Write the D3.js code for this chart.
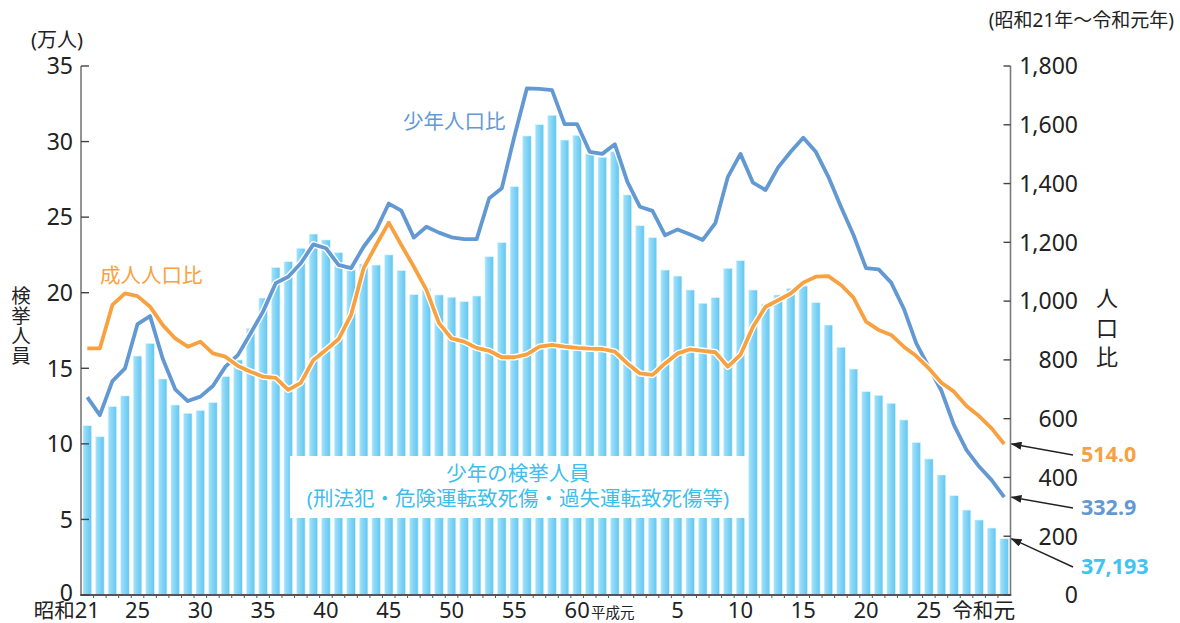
<!DOCTYPE html>
<html><head><meta charset="utf-8">
<script src="https://cdn.jsdelivr.net/npm/d3@7"></script>
<style>
body{margin:0;background:#fff;}
svg{display:block;font-family:"Noto Sans","Noto Sans CJK JP",sans-serif;}
</style></head><body>
<svg id="c" width="1180" height="623"></svg>
<script>
// ---- data ----
const years = [1946,1947,1948,1949,1950,1951,1952,1953,1954,1955,1956,1957,1958,1959,1960,1961,1962,1963,1964,1965,
  1966,1967,1968,1969,1970,1971,1972,1973,1974,1975,1976,1977,1978,1979,1980,1981,1982,1983,1984,1985,
  1986,1987,1988,1989,1990,1991,1992,1993,1994,1995,1996,1997,1998,1999,2000,2001,2002,2003,2004,2005,
  2006,2007,2008,2009,2010,2011,2012,2013,2014,2015,2016,2017,2018,2019];
// juvenile arrests (10,000 persons)
const arrests = [11.2,10.47,12.46,13.17,15.81,16.64,14.29,12.57,12.02,12.2,12.73,14.45,15.55,17.64,19.65,21.66,22.05,22.94,23.88,23.49,
  22.65,21.5,21.9,21.83,22.5,21.46,19.87,20.27,19.85,19.7,19.41,19.78,22.38,23.31,27.02,30.37,31.12,31.74,30.1,30.41,
  29.18,28.96,29.33,26.47,24.43,23.64,21.5,21.1,20.18,19.3,19.67,21.61,22.12,20.18,19.25,19.85,20.29,20.44,19.34,17.86,
  16.39,14.95,13.45,13.21,12.68,11.58,10.08,9.0,7.94,6.57,5.62,4.96,4.43,3.7193];
// juvenile rate per population
const juvenileRate = [673,612,728,771,922,949,805,700,660,675,711,777,817,890,965,1061,1083,1129,1193,1180,
  1123,1112,1185,1242,1332,1308,1216,1253,1233,1217,1211,1211,1350,1384,1560,1724,1722,1718,1602,1602,
  1508,1501,1534,1406,1321,1307,1224,1244,1227,1208,1265,1423,1501,1403,1378,1455,1508,1556,1508,1423,
  1321,1225,1112,1108,1063,975,856,775,695,578,493,437,391,332.9];
// adult rate per population
const adultRate = [839,839,987,1026,1017,981,919,873,845,862,822,811,779,760,743,739,698,722,800,834,
  870,953,1112,1191,1267,1191,1117,1038,925,873,862,841,831,809,809,819,845,851,845,841,
  838,837,828,788,754,749,788,822,836,831,826,777,817,913,981,1003,1026,1063,1083,1085,
  1055,1012,930,902,885,845,813,771,722,692,643,609,567,514.0];
const tickYears = [1946,1950,1955,1960,1965,1970,1975,1980,1985,1989,1993,1998,2003,2008,2013,2019];
const tickPrefix = ["昭和","","","","","","","","","","","","","","","令和"];
const tickText = ["21","25","30","35","40","45","50","55","60","平成元","5","10","15","20","25","元"];
const leftTicks = [0,5,10,15,20,25,30,35];
const rightTicks = [0,200,400,600,800,1000,1200,1400,1600,1800];

// ---- layout ----
const svg = d3.select("#c");
const X0 = 81, X1 = 1010.5, Y0 = 595, Y1 = 66;
const x = d3.scaleBand().domain(years).range([X0, X1]).paddingInner(0.32).paddingOuter(0.16);
const yL = d3.scaleLinear().domain([0,35]).range([Y0,Y1]);
const yR = d3.scaleLinear().domain([0,1800]).range([Y0,Y1]);
const cx = d => x(d) + x.bandwidth()/2;

const defs = svg.append("defs");
const g = defs.append("linearGradient").attr("id","barg").attr("x1","0").attr("x2","1").attr("y1","0").attr("y2","0");
g.append("stop").attr("offset","0%").attr("stop-color","#a6e2fa");
g.append("stop").attr("offset","45%").attr("stop-color","#84d5f6");
g.append("stop").attr("offset","100%").attr("stop-color","#62c6f0");
defs.append("marker").attr("id","arr").attr("markerUnits","userSpaceOnUse")
  .attr("markerWidth",11).attr("markerHeight",8).attr("refX",10).attr("refY",4).attr("orient","auto")
  .append("path").attr("d","M0,0 L11,4 L0,8 Z").attr("fill","#222");

// bars
svg.append("g").selectAll("rect").data(years).join("rect")
  .attr("x", d => x(d)).attr("width", x.bandwidth())
  .attr("y", (d,i) => yL(arrests[i])).attr("height", (d,i) => Y0 - yL(arrests[i]))
  .attr("fill","url(#barg)").attr("stroke","#d8f3fd").attr("stroke-width",0.6);

// white label box
svg.append("rect").attr("x",290).attr("y",456).attr("width",456).attr("height",62).attr("fill","#fff");
const bt = svg.append("text").attr("text-anchor","middle").attr("font-size",20.5).attr("fill","#3fbdec");
bt.append("tspan").attr("x",518).attr("y",481).text("少年の検挙人員");
bt.append("tspan").attr("x",518).attr("y",506).text("(刑法犯・危険運転致死傷・過失運転致死傷等)");

// lines
function drawLine(vals, color){
  const line = d3.line().x((d,i)=>cx(years[i])).y(d=>yR(d)).curve(d3.curveLinear);
  svg.append("path").attr("d", line(vals)).attr("fill","none").attr("stroke","#fff")
    .attr("stroke-width",6.5).attr("stroke-linejoin","round");
  svg.append("path").attr("d", line(vals)).attr("fill","none").attr("stroke",color)
    .attr("stroke-width",3.8).attr("stroke-linejoin","round");
}
drawLine(juvenileRate, "#6399d2");
drawLine(adultRate, "#f8a141");

// axes
const axisColor = "#7a7a7a";
svg.append("line").attr("x1",X0).attr("x2",X0).attr("y1",Y1).attr("y2",Y0).attr("stroke",axisColor).attr("stroke-width",1.6);
svg.append("line").attr("x1",X1).attr("x2",X1).attr("y1",Y1).attr("y2",Y0).attr("stroke",axisColor).attr("stroke-width",1.6);
svg.append("line").attr("x1",X0-0.8).attr("x2",X1+0.8).attr("y1",Y0).attr("y2",Y0).attr("stroke","#555").attr("stroke-width",2);
svg.append("g").selectAll("line").data(years.slice(1)).join("line")
  .attr("x1",d=>x(d)-x.step()*x.paddingInner()/2).attr("x2",d=>x(d)-x.step()*x.paddingInner()/2)
  .attr("y1",Y0).attr("y2",Y0+3).attr("stroke","#555").attr("stroke-width",1);

const lg = svg.append("g");
leftTicks.forEach(t=>{
  lg.append("line").attr("x1",X0).attr("x2",X0+8).attr("y1",yL(t)).attr("y2",yL(t)).attr("stroke","#444").attr("stroke-width",1.4);
  lg.append("text").attr("x",73).attr("y",yL(t) - (t===0 ? 2 : 0)).attr("dy","0.36em").attr("text-anchor","end")
    .attr("font-size",23).attr("fill","#222").text(t);
});
const rg = svg.append("g");
rightTicks.forEach(t=>{
  rg.append("line").attr("x1",X1-7).attr("x2",X1).attr("y1",yR(t)).attr("y2",yR(t)).attr("stroke","#444").attr("stroke-width",1.4);
  rg.append("text").attr("x",1078).attr("y",yR(t)).attr("dy","0.36em").attr("text-anchor","end")
    .attr("font-size",23).attr("fill","#222").text(d3.format(",")(t));
});

// x tick labels (the numeric part is centred on the bar; era prefix precedes it)
const xg = svg.append("g");
tickYears.forEach((yr,i)=>{
  const c = cx(yr);
  const small = tickText[i] === "平成元";
  const t = xg.append("text").attr("y",618).attr("text-anchor","end").attr("fill","#222");
  if (tickPrefix[i]) t.append("tspan").attr("font-size",20.5).text(tickPrefix[i]);
  const s = t.append("tspan").attr("font-size", small ? 14.5 : 22).text(tickText[i]);
  const w = small ? 14 : s.node().getComputedTextLength();
  t.attr("x", c + w/2);
});

// axis titles
svg.append("text").attr("x",31).attr("y",47).attr("font-size",20).attr("fill","#222").text("(万人)");
svg.append("text").attr("x",1174).attr("y",27).attr("text-anchor","end").attr("font-size",19).attr("fill","#222").text("(昭和21年～令和元年)");
svg.append("text").attr("x",20).attr("y",286).attr("font-size",19.5).attr("fill","#222")
  .style("writing-mode","vertical-rl").style("letter-spacing","0.5px").text("検挙人員");
svg.append("text").attr("x",1106).attr("y",287).attr("font-size",22).attr("fill","#222")
  .style("writing-mode","vertical-rl").style("letter-spacing","7.5px").text("人口比");

// series labels
svg.append("text").attr("x",100).attr("y",283).attr("font-size",20.5).attr("fill","#f8a141").text("成人人口比");
svg.append("text").attr("x",403).attr("y",129).attr("font-size",20.5).attr("fill","#6399d2").text("少年人口比");

// end annotations
const last = years.length-1;
const ann = [
  {txt:"514.0", color:"#f8a141", ty:462, ey:yR(adultRate[last])},
  {txt:"332.9", color:"#6399d2", ty:515, ey:yR(juvenileRate[last])},
  {txt:"37,193", color:"#3fc3ef", ty:574, ey:yL(arrests[last])}
];
ann.forEach(a=>{
  svg.append("line").attr("x1",1073).attr("y1",a.ty-7).attr("x2",X1+1).attr("y2",a.ey)
    .attr("stroke","#222").attr("stroke-width",1.4).attr("marker-end","url(#arr)");
  svg.append("text").attr("x",1081).attr("y",a.ty).attr("font-size",21.5).attr("font-weight","bold")
    .attr("fill",a.color).text(a.txt);
});
</script>
</body></html>
